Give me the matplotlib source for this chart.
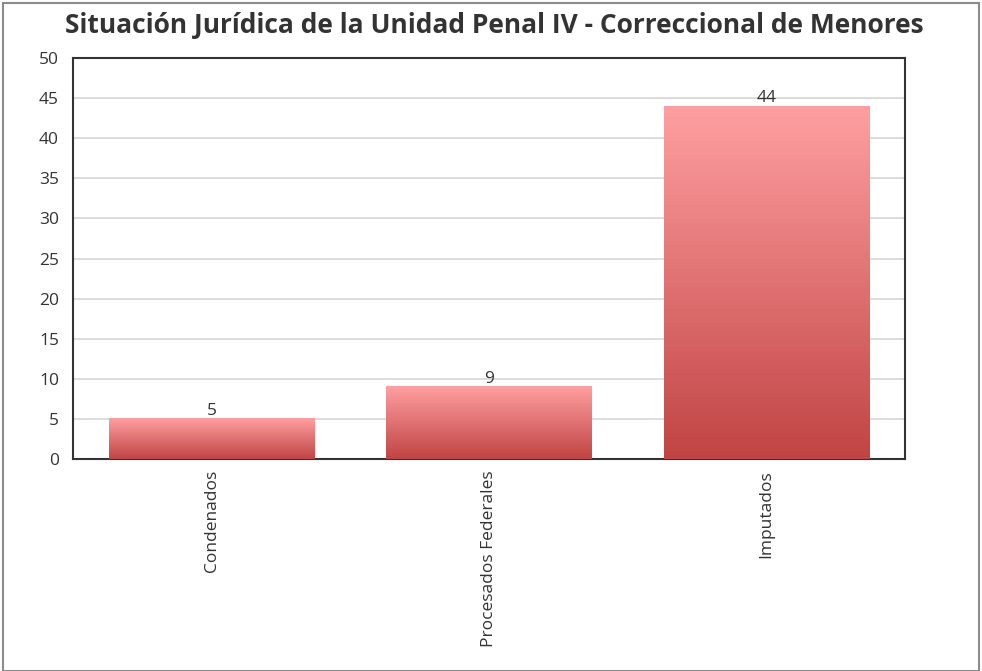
import numpy as np
import matplotlib
matplotlib.use("Agg")
import matplotlib.pyplot as plt
from matplotlib.colors import LinearSegmentedColormap
from matplotlib.patches import Rectangle

# data
categorias = ["Condenados", "Procesados Federales", "Imputados"]
valores = [5, 9, 44]
titulo = "Situación Jurídica de la Unidad Penal IV - Correccional de Menores"

plt.rcParams["font.family"] = ["Open Sans", "DejaVu Sans"]

fig = plt.figure(figsize=(9.82, 6.71), dpi=100)
ax = fig.add_axes([0.0743, 0.3159, 0.8473, 0.5977])

# gradient from light pink (top) to dark red (bottom)
cmap = LinearSegmentedColormap.from_list("rojo", ["#c14444", "#ff9fa1"])
grad = np.linspace(0, 1, 256).reshape(-1, 1)

x = np.arange(len(categorias))
ancho = 0.74
bars = ax.bar(x, valores, width=ancho, color="none", edgecolor="none", zorder=3)
for b in bars:
    x0, y0 = b.get_x(), b.get_y()
    w, h = b.get_width(), b.get_height()
    ax.imshow(grad, extent=[x0, x0 + w, y0, y0 + h], origin="lower",
              cmap=cmap, aspect="auto", zorder=3)
    ax.text(x0 + w / 2, h, str(int(h)), ha="center", va="bottom",
            fontsize=12.5, color="#333333", zorder=4)

ax.set_xlim(-0.5, len(categorias) - 0.5)
ax.set_ylim(0, 50)
ax.set_yticks(range(0, 51, 5))
ax.set_xticks(x)
ax.set_xticklabels(categorias, rotation=90, fontsize=12.5, color="#333333")
ax.tick_params(axis="y", length=0, pad=10, labelsize=12.5, labelcolor="#333333")
ax.tick_params(axis="x", length=0, pad=8)
ax.yaxis.grid(True, color="#d9d9d9", linewidth=1.3, zorder=0)
ax.set_axisbelow(True)
for s in ax.spines.values():
    s.set_color("#333333")
    s.set_linewidth(1.5)

fig.text(0.503, 0.962, titulo, ha="center", va="center",
         fontsize=19, fontweight="bold", color="#333333")

# outer frame
fig.patches.append(Rectangle((0.003, 0.0), 0.994, 0.996, transform=fig.transFigure,
                             fill=False, edgecolor="#8c8c8c", linewidth=1.5))

fig.savefig("out.png", dpi=100)
